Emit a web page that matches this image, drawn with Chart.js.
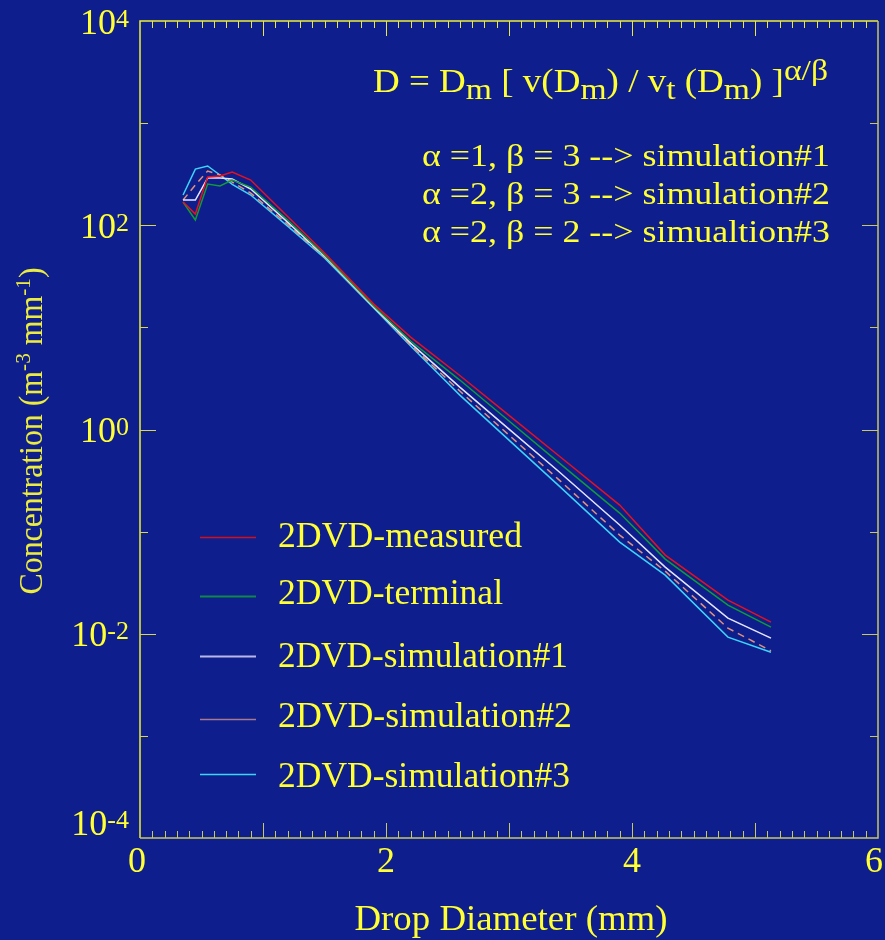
<!DOCTYPE html>
<html>
<head>
<meta charset="utf-8">
<script src="https://cdn.jsdelivr.net/npm/chart.js@4"></script>
<style>
  html, body { margin: 0; padding: 0; background: #0e1e8c; }
  #wrap { width: 885px; height: 940px; }
</style>
</head>
<body>
<div id="wrap"><canvas id="c" width="885" height="940"></canvas></div>
<script>
// ---- data ----
const diameters = [0.35, 0.45, 0.55, 0.65, 0.75, 0.9, 1.2, 1.5, 1.9, 2.2, 2.6, 3.0, 3.4, 3.9, 4.27, 4.78, 5.13];
const measured    = [168.7, 128.8, 296.5, 303.4, 331.9, 277.3, 122.0, 53.5, 16.9, 8.04, 3.38, 1.374, 0.560, 0.182, 0.0589, 0.0213, 0.0130];
const terminal    = [168.7, 112.5, 253.5, 242.1, 277.3, 236.6, 112.5, 51.1, 16.2, 7.35, 3.05, 1.21, 0.479, 0.152, 0.0538, 0.0191, 0.0116];
const simulation1 = [176.6, 176.6, 289.7, 289.7, 283.1, 226.5, 107.4, 49.9, 15.8, 7.01, 2.60, 1.01, 0.392, 0.116, 0.0449, 0.0142, 0.00906];
const simulation2 = [176.6, 247.7, 339.6, 310.5, 264.8, 206.5, 102.3, 48.9, 15.8, 6.71, 2.38, 0.881, 0.327, 0.0925, 0.0410, 0.01135, 0.0068];
const simulation3 = [197.7, 354.8, 380.2, 310.5, 251.2, 197.7, 98.2, 47.8, 15.5, 6.56, 2.17, 0.787, 0.285, 0.0789, 0.0375, 0.00927, 0.0066];
const seriesNames = ['2DVD-measured', '2DVD-terminal', '2DVD-simulation#1', '2DVD-simulation#2', '2DVD-simulation#3'];
const xTickLabels = [0, 2, 4, 6];
const yTickExponents = [4, 3, 2, 1, 0, -1, -2, -3, -4];
const yLabelExponents = [4, 2, 0, -2, -4];
const paramLines = [
  'α =1, β = 3 --> simulation#1',
  'α =2, β = 3 --> simulation#2',
  'α =2, β = 2 --> simualtion#3'
];

const FONT = '"Liberation Serif", "DejaVu Serif", serif';
const YEL = '#ffff33';
const BG = '#0e1e8c';

function pts(arr) { return diameters.map((d, i) => ({ x: d, y: arr[i] })); }

const styles = [
  { color: '#e8101c', width: 1.5, dash: [], legW: 1.4, legC: '#d0101c' },
  { color: '#109a3a', width: 1.5, dash: [], legW: 2, legC: '#10884a' },
  { color: '#e6e6ff', width: 1.5, dash: [], legW: 2, legC: '#b8b8e8' },
  { color: '#e0907c', width: 1.5, dash: [7, 5], legW: 1.5, legC: '#a87890' },
  { color: '#3cd4fa', width: 1.5, dash: [], legW: 1.5, legC: '#3cd4fa' }
];
const allSeries = [measured, terminal, simulation1, simulation2, simulation3];

const datasets = allSeries.map((s, i) => ({
  label: seriesNames[i],
  data: pts(s),
  borderColor: styles[i].color,
  borderWidth: styles[i].width,
  borderDash: styles[i].dash,
  pointRadius: 0,
  fill: false,
  tension: 0
}));

function drawRich(ctx, segs, x, y, opts) {
  opts = opts || {};
  let total = 0;
  const ws = segs.map(s => {
    ctx.font = s.s + 'px ' + FONT;
    const w = ctx.measureText(s.t).width;
    total += w;
    return w;
  });
  const sx = opts.width ? opts.width / total : 1;
  const tw = total * sx;
  let sxPos = x;
  if (opts.align === 'right') sxPos = x - tw;
  else if (opts.align === 'center') sxPos = x - tw / 2;
  ctx.save();
  ctx.translate(sxPos, y);
  ctx.scale(sx, 1);
  ctx.textBaseline = 'alphabetic';
  ctx.textAlign = 'left';
  let cur = 0;
  segs.forEach((s, i) => {
    ctx.font = s.s + 'px ' + FONT;
    ctx.fillStyle = s.c || opts.color || YEL;
    ctx.fillText(s.t, cur, s.dy || 0);
    cur += ws[i];
  });
  ctx.restore();
}

const decor = {
  id: 'decor',
  beforeDraw(chart) {
    const ctx = chart.ctx;
    ctx.save();
    ctx.fillStyle = BG;
    ctx.fillRect(0, 0, chart.width, chart.height);
    ctx.restore();
  },
  afterDraw(chart) {
    const ctx = chart.ctx;
    const xs = chart.scales.x, ys = chart.scales.y;
    const L = chart.chartArea.left, R = chart.chartArea.right;
    const T = chart.chartArea.top, B = chart.chartArea.bottom;
    ctx.save();
    ctx.lineWidth = 1.5;
    // frame
    ctx.strokeStyle = '#f0f030';
    ctx.beginPath(); ctx.moveTo(L, B); ctx.lineTo(L, T); ctx.lineTo(R, T); ctx.stroke();
    ctx.strokeStyle = '#c8c860';
    ctx.beginPath(); ctx.moveTo(L, B); ctx.lineTo(R, B); ctx.lineTo(R, T); ctx.stroke();
    // x ticks (every 0.1, long at integers)
    ctx.lineWidth = 1;
    for (let k = 1; k < 60; k++) {
      const v = k / 10;
      const px = Math.round(xs.getPixelForValue(v)) + 0.5;
      const len = (k % 10 === 0) ? 15 : 7;
      ctx.strokeStyle = '#c8c860';
      ctx.beginPath(); ctx.moveTo(px, B); ctx.lineTo(px, B - len); ctx.stroke();
      ctx.strokeStyle = '#e8e840';
      ctx.beginPath(); ctx.moveTo(px, T); ctx.lineTo(px, T + len); ctx.stroke();
    }
    // y ticks
    yTickExponents.forEach(e => {
      if (e === 4 || e === -4) return;
      const py = Math.round(ys.getPixelForValue(Math.pow(10, e))) + 0.5;
      const len = (e % 2 === 0) ? 16 : 8;
      ctx.strokeStyle = '#d8d850';
      ctx.beginPath(); ctx.moveTo(L, py); ctx.lineTo(L + len, py); ctx.stroke();
      ctx.strokeStyle = '#c8c860';
      ctx.beginPath(); ctx.moveTo(R, py); ctx.lineTo(R - len, py); ctx.stroke();
    });
    ctx.restore();

    // x tick labels
    xTickLabels.forEach(v => {
      const px = xs.getPixelForValue(v);
      let off = 0;
      if (v === 0) off = -3;
      if (v === 6) off = -4;
      drawRich(ctx, [{ t: String(v), s: 36 }], px + off, 872, { align: 'center' });
    });
    // y tick labels
    yLabelExponents.forEach(e => {
      let py = ys.getPixelForValue(Math.pow(10, e));
      if (e === -4) py -= 16;
      drawRich(ctx, [{ t: '10', s: 36 }, { t: e < 0 ? '-' + Math.abs(e) : String(e), s: 26, dy: -7 }], 129, py + 12.5, { align: 'right' });
    });
    // axis titles
    drawRich(ctx, [{ t: 'Drop Diameter (mm)', s: 36 }], 511, 930, { align: 'center', width: 313 });
    ctx.save();
    ctx.translate(42, 431);
    ctx.rotate(-Math.PI / 2);
    drawRich(ctx, [
      { t: 'Concentration (m', s: 33 },
      { t: '-3', s: 22, dy: -12 },
      { t: ' mm', s: 33 },
      { t: '-1', s: 22, dy: -12 },
      { t: ')', s: 33 }
    ], 0, 0, { align: 'center', width: 327, color: '#ecec40' });
    ctx.restore();

    // formula
    drawRich(ctx, [
      { t: 'D = D', s: 33 },
      { t: 'm', s: 30, dy: 7 },
      { t: ' [ v(D', s: 33 },
      { t: 'm', s: 30, dy: 7 },
      { t: ') / v', s: 33 },
      { t: 't', s: 30, dy: 7 },
      { t: ' (D', s: 33 },
      { t: 'm', s: 30, dy: 7 },
      { t: ') ]', s: 33 },
      { t: 'α/β', s: 30, dy: -12 }
    ], 373, 92, { width: 455 });
    const pb = [166, 204, 242];
    paramLines.forEach((t, i) => {
      drawRich(ctx, [{ t: t, s: 31 }], 422, pb[i], { width: 408 });
    });

    // legend
    const legLineY = [537, 596, 656, 719, 774];
    const legTextY = [547, 604, 667, 727, 787];
    const legTextW = [244, 225, 290, 294, 292];
    ctx.save();
    seriesNames.forEach((name, i) => {
      ctx.strokeStyle = styles[i].legC;
      ctx.lineWidth = styles[i].legW;
      ctx.setLineDash([]);
      ctx.beginPath(); ctx.moveTo(200, legLineY[i] + 0.5); ctx.lineTo(256, legLineY[i] + 0.5); ctx.stroke();
      drawRich(ctx, [{ t: name, s: 35 }], 278, legTextY[i], { width: legTextW[i] });
    });
    ctx.restore();
  }
};

new Chart(document.getElementById('c'), {
  type: 'line',
  data: { datasets },
  options: {
    responsive: false,
    animation: false,
    devicePixelRatio: 1,
    layout: { padding: { left: 140, right: 7, top: 21, bottom: 102 } },
    plugins: { legend: { display: false }, tooltip: { enabled: false } },
    scales: {
      x: { type: 'linear', min: 0, max: 6, display: false },
      y: { type: 'logarithmic', min: 1e-4, max: 1e4, display: false }
    }
  },
  plugins: [decor]
});
</script>
</body>
</html>
